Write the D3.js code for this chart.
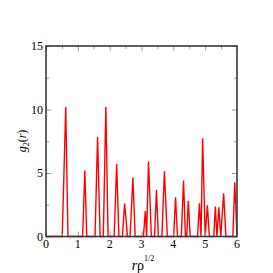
<!DOCTYPE html>
<html><head><meta charset="utf-8">
<script src="https://cdn.jsdelivr.net/npm/d3@7"></script>
<style>body{margin:0;background:#fff}svg{display:block}svg text{font-family:"Liberation Serif","Times New Roman",serif}</style>
</head><body>
<script>
// curve points (r * rho^(1/2), g2(r))
const rValues = [0.00,0.51,0.62,0.69,1.15,1.22,1.28,1.54,1.62,1.70,1.80,1.88,1.95,2.14,2.22,2.29,2.40,2.47,2.56,2.64,2.73,2.80,3.06,3.12,3.16,3.22,3.31,3.41,3.47,3.53,3.64,3.72,3.81,4.01,4.07,4.13,4.25,4.32,4.38,4.42,4.47,4.53,4.76,4.82,4.87,4.92,5.00,5.07,5.13,5.27,5.32,5.37,5.43,5.49,5.58,5.65,5.87,5.93,6.00];
const gValues = [0,0,10.2,0,0,5.2,0,0,7.85,0,0,10.2,0,0,5.7,0,0,2.6,0,0,4.65,0,0,2.0,0,5.9,0,0,3.65,0,0,5.13,0,0,3.09,0,0,4.4,0,0,2.82,0,0,2.61,0,7.73,0,2.45,0,0,2.35,0,2.3,0,3.4,0,0,4.27,0];
const xTicks = [0,1,2,3,4,5,6];
const yTicks = [0,5,10,15];
const xMinor = [0.5,1.5,2.5,3.5,4.5,5.5];
const yMinor = [2.5,7.5,12.5];

const W=273,H=273, L=46, R=237, T=46, B=236.5;
const svg=d3.select("body").append("svg").attr("width",W).attr("height",H);
const x=d3.scaleLinear().domain([0,6]).range([L,R]);
const y=d3.scaleLinear().domain([0,15]).range([B,T]);

const line=d3.line().x((d,i)=>x(rValues[i])).y((d,i)=>y(gValues[i]));
svg.append("path").datum(rValues).attr("d",line).attr("fill","none")
  .attr("stroke","#ff0000").attr("stroke-width",1.4).attr("stroke-linejoin","miter");

const tickCol="#999";
function ticks(axisGen, tr){
  const g=svg.append("g").attr("transform",tr).call(axisGen);
  g.select(".domain").remove();
  g.selectAll(".tick line").attr("stroke",tickCol).attr("stroke-width",1);
  g.selectAll("text").remove();
  return g;
}
ticks(d3.axisBottom(x).tickValues(xTicks).tickSize(-5),`translate(0,${B})`);
ticks(d3.axisBottom(x).tickValues(xMinor).tickSize(-3),`translate(0,${B})`);
ticks(d3.axisTop(x).tickValues(xTicks).tickSize(-5),`translate(0,${T})`);
ticks(d3.axisTop(x).tickValues(xMinor).tickSize(-3),`translate(0,${T})`);
ticks(d3.axisLeft(y).tickValues(yTicks).tickSize(-5),`translate(${L},0)`);
ticks(d3.axisLeft(y).tickValues(yMinor).tickSize(-3),`translate(${L},0)`);
ticks(d3.axisRight(y).tickValues(yTicks).tickSize(-5),`translate(${R},0)`);
ticks(d3.axisRight(y).tickValues(yMinor).tickSize(-3),`translate(${R},0)`);

svg.append("rect").attr("x",L).attr("y",T).attr("width",R-L).attr("height",B-T)
  .attr("fill","none").attr("stroke","#3a3a3a").attr("stroke-width",1.6);

svg.append("g").selectAll("text").data(xTicks).join("text")
  .attr("x",d=>x(d)).attr("y",B+11).attr("text-anchor","middle")
  .attr("font-size",12).attr("fill","#000").text(d=>d);
svg.append("g").selectAll("text").data(yTicks).join("text")
  .attr("x",L-3).attr("y",d=>y(d)+4).attr("text-anchor","end")
  .attr("font-size",12).attr("fill","#000").text(d=>d);

// x label
const xl=svg.append("text").attr("x",143).attr("y",270).attr("text-anchor","middle")
  .attr("font-size",14).attr("fill","#000");
xl.append("tspan").attr("font-style","italic").text("r");
xl.append("tspan").text("ρ");
xl.append("tspan").attr("font-size",8).attr("dy",-9).text("1/2");

// y label
const yl=svg.append("text").attr("transform",`translate(26,141) rotate(-90)`)
  .attr("text-anchor","middle").attr("font-size",12).attr("fill","#000");
yl.append("tspan").attr("font-style","italic").text("g");
yl.append("tspan").attr("font-size",8).attr("dy",3).text("2");
yl.append("tspan").attr("dy",-3).text("(");
yl.append("tspan").attr("font-style","italic").text("r");
yl.append("tspan").text(")");
</script>
</body></html>
